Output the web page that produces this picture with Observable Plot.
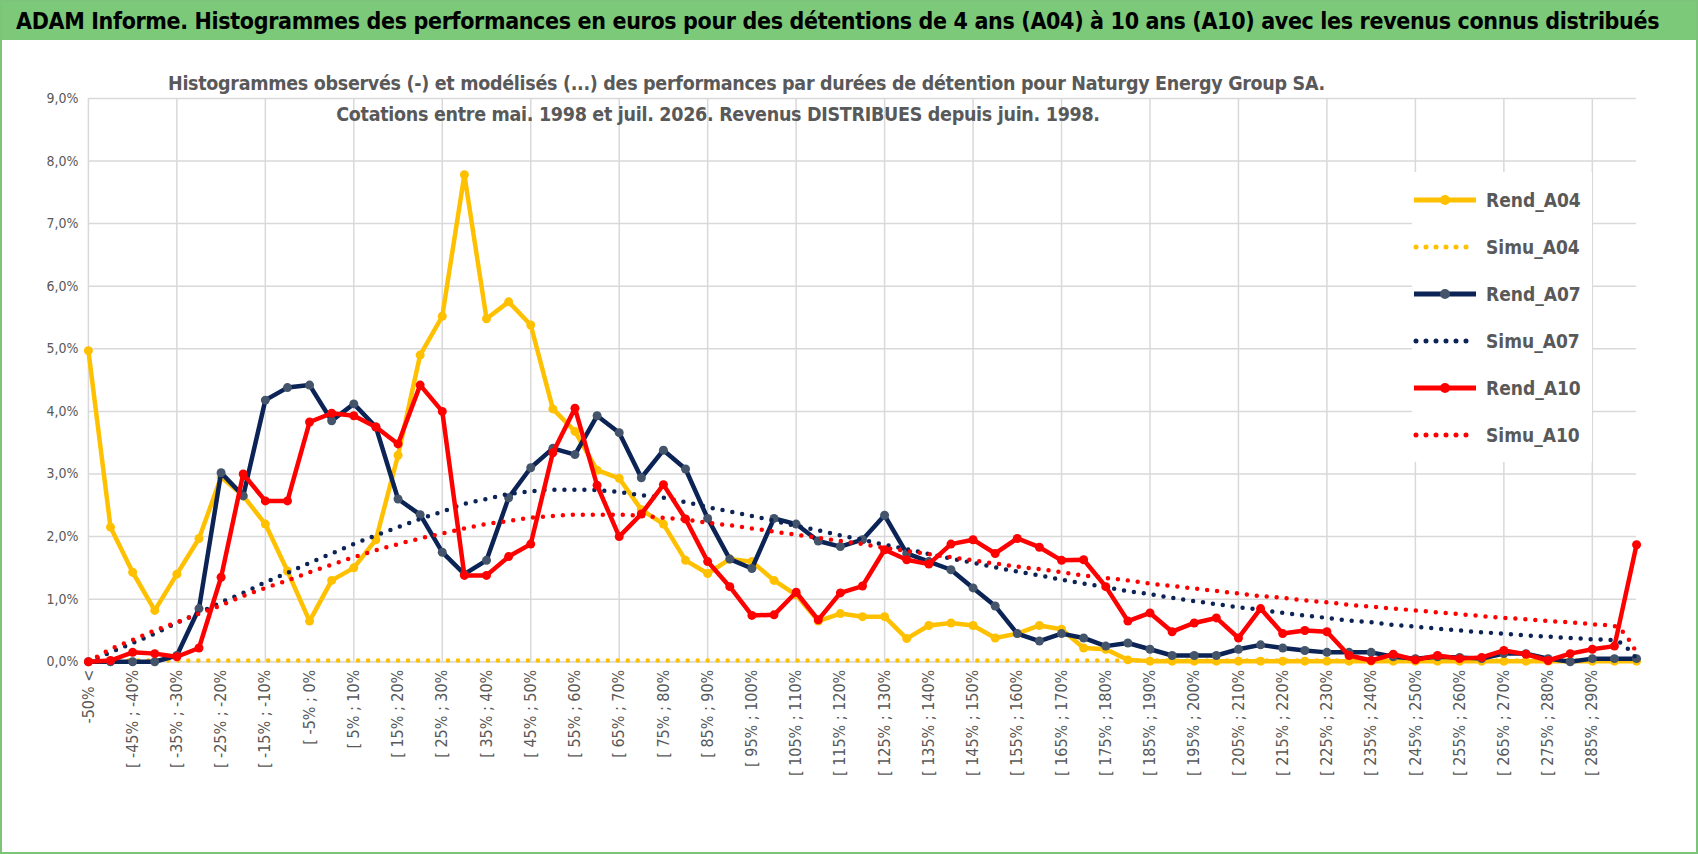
<!DOCTYPE html>
<html><head><meta charset="utf-8">
<script src="https://cdn.jsdelivr.net/npm/d3@7"></script>
<script src="https://cdn.jsdelivr.net/npm/@observablehq/plot@0.6"></script>
<style>
body{margin:0;background:#fff;font-family:"DejaVu Sans Condensed","Liberation Sans Narrow","DejaVu Sans",sans-serif;}
#page{position:relative;width:1694px;height:850px;border:2px solid #7cc47a;overflow:hidden;}
#title{height:38px;background:#7cc97a;color:#000;font-weight:bold;font-size:23px;letter-spacing:-0.35px;line-height:38px;padding-left:14px;white-space:nowrap;}
#chart{position:absolute;left:-2px;top:38px;}
#sub{position:absolute;left:166px;width:1100px;top:66px;text-align:center;color:#595959;font-weight:bold;font-size:19.5px;letter-spacing:-0.3px;line-height:31px;white-space:nowrap;}
#legend{position:absolute;left:1410px;top:170px;width:180px;background:#fff;padding:4px 0;}
.li{height:47px;display:flex;align-items:center;color:#595959;font-weight:bold;font-size:19px;}
.li svg{margin-right:8px;}
</style></head><body>
<div id="page">
<div id="title">ADAM Informe. Histogrammes des performances en euros pour des détentions de 4 ans (A04) à 10 ans (A10) avec les revenus connus distribués</div>
<div id="chart"></div>
<div id="sub">Histogrammes observés (-) et modélisés (...) des performances par durées de détention pour Naturgy Energy Group SA.<br>Cotations entre mai. 1998 et juil. 2026. Revenus DISTRIBUES depuis juin. 1998.</div>
<div id="legend"></div>
</div>
<script>
const categories = ["-50% <"].concat(d3.range(70).map(i => `[ ${-50 + 5*i}% ; ${-45 + 5*i}%`));

const rendA04 = [4.97,2.15,1.43,0.82,1.4,1.97,2.95,2.65,2.2,1.45,0.65,1.3,1.5,1.95,3.3,4.9,5.52,7.78,5.48,5.75,5.38,4.04,3.68,3.06,2.93,2.43,2.2,1.62,1.41,1.64,1.6,1.3,1.07,0.65,0.77,0.72,0.72,0.37,0.58,0.62,0.58,0.38,0.45,0.58,0.52,0.22,0.2,0.03,0.01,0.01,0.01,0.01,0.01,0.01,0.01,0.01,0.01,0.01,0.01,0.01,0.01,0.01,0.01,0.01,0.01,0.01,0.01,0.01,0.01,0.01,0.01];
const simuA04 = Array.from({length:71}, () => 0.02);
const rendA07 = [0,0,0,0,0.1,0.85,3.02,2.65,4.18,4.38,4.42,3.85,4.12,3.75,2.6,2.35,1.75,1.4,1.62,2.62,3.1,3.41,3.31,3.93,3.66,2.94,3.38,3.08,2.29,1.64,1.49,2.29,2.2,1.93,1.84,1.95,2.34,1.73,1.6,1.47,1.18,0.89,0.45,0.33,0.45,0.38,0.25,0.3,0.2,0.1,0.1,0.1,0.2,0.27,0.22,0.18,0.15,0.15,0.15,0.08,0.05,0.08,0.07,0.05,0.13,0.13,0.05,0.0,0.05,0.05,0.05];
const simuA07 = [0,0.15,0.3,0.45,0.62,0.78,0.95,1.1,1.27,1.42,1.58,1.73,1.88,2.02,2.15,2.28,2.4,2.52,2.6,2.68,2.72,2.75,2.75,2.74,2.71,2.66,2.62,2.55,2.47,2.4,2.33,2.25,2.17,2.1,2.02,1.95,1.87,1.8,1.72,1.65,1.58,1.51,1.44,1.38,1.31,1.25,1.19,1.13,1.08,1.02,0.97,0.92,0.87,0.83,0.78,0.74,0.7,0.66,0.63,0.59,0.56,0.53,0.5,0.47,0.45,0.42,0.4,0.38,0.36,0.34,0.05];
const rendA10 = [0,0.02,0.15,0.13,0.08,0.22,1.35,3.0,2.57,2.57,3.83,3.97,3.93,3.75,3.48,4.42,4.0,1.38,1.38,1.68,1.88,3.34,4.05,2.82,2.0,2.36,2.83,2.28,1.6,1.2,0.74,0.75,1.11,0.67,1.1,1.21,1.79,1.63,1.56,1.88,1.95,1.73,1.97,1.83,1.62,1.63,1.2,0.65,0.78,0.48,0.62,0.7,0.38,0.85,0.45,0.5,0.48,0.1,0.02,0.12,0.03,0.1,0.05,0.07,0.18,0.12,0.02,0.13,0.2,0.25,1.87];
const simuA10 = [0,0.2,0.35,0.5,0.63,0.77,0.9,1.05,1.18,1.3,1.43,1.55,1.67,1.78,1.88,1.97,2.05,2.13,2.2,2.25,2.3,2.33,2.35,2.35,2.35,2.33,2.3,2.27,2.22,2.18,2.13,2.08,2.03,1.98,1.93,1.88,1.82,1.77,1.72,1.67,1.62,1.57,1.52,1.48,1.43,1.38,1.34,1.3,1.25,1.21,1.17,1.13,1.09,1.05,1.02,0.98,0.95,0.91,0.88,0.85,0.82,0.79,0.76,0.73,0.7,0.68,0.65,0.63,0.6,0.57,0.15];
const yTicks = [0,1,2,3,4,5,6,7,8,9];

const YEL="#ffc000", NAV="#0c2356", RED="#ff0000";
const mk = arr => arr.map((v,i)=>({i, v}));
const series = [
  {name:"Rend_A04", data:mk(rendA04), color:YEL, dot:YEL, solid:true},
  {name:"Simu_A04", data:mk(simuA04), color:YEL, solid:false},
  {name:"Rend_A07", data:mk(rendA07), color:NAV, dot:"#44546a", solid:true},
  {name:"Simu_A07", data:mk(simuA07), color:NAV, solid:false},
  {name:"Rend_A10", data:mk(rendA10), color:RED, dot:RED, solid:true},
  {name:"Simu_A10", data:mk(simuA10), color:RED, solid:false},
];
const marks = [
  Plot.gridY(yTicks, {stroke:"#d9d9d9", strokeOpacity:1, strokeWidth:1.5}),
  Plot.gridX(d3.range(0,71,4), {stroke:"#d9d9d9", strokeOpacity:1, strokeWidth:1.5}),
  Plot.axisY(yTicks, {tickSize:0, label:null, tickFormat:d=>d.toFixed(1).replace(".",",")+"%", fontSize:14, fill:"#595959", tickPadding:10}),
  Plot.axisX(d3.range(0,70,2), {tickSize:0, label:null, tickRotate:-90, tickFormat:i=>categories[i], fontSize:16, fill:"#595959", tickPadding:8}),
  Plot.ruleY([0], {stroke:"#d9d9d9", strokeWidth:1.5}),
];
for (const s of series) {
  if (s.solid) {
    marks.push(Plot.line(s.data, {x:"i", y:"v", stroke:s.color, strokeWidth:4.5, strokeLinejoin:"round"}));
    marks.push(Plot.dot(s.data, {x:"i", y:"v", r:4.5, fill:s.dot, stroke:null}));
  } else {
    marks.push(Plot.line(s.data, {x:"i", y:"v", stroke:s.color, strokeWidth:4.5, strokeDasharray:"0,10", strokeLinecap:"round", curve:"monotone-x"}));
  }
}
const chart = Plot.plot({
  width:1698, height:812, marginTop:58, marginBottom:190, marginLeft:88, marginRight:60,
  x:{domain:[0,70], axis:null},
  y:{domain:[0,9], axis:null},
  style:{fontFamily:"'DejaVu Sans Condensed','Liberation Sans Narrow',sans-serif", background:"transparent"},
  marks
});
document.getElementById("chart").appendChild(chart);

const leg = document.getElementById("legend");
for (const s of series) {
  const row = document.createElement("div"); row.className="li";
  row.innerHTML = s.solid
    ? `<svg width="66" height="12"><line x1="2" y1="6" x2="64" y2="6" stroke="${s.color}" stroke-width="5"/><circle cx="33" cy="6" r="5" fill="${s.dot}"/></svg>${s.name}`
    : `<svg width="66" height="12"><line x1="4" y1="6" x2="64" y2="6" stroke="${s.color}" stroke-width="5" stroke-dasharray="0,10" stroke-linecap="round"/></svg>${s.name}`;
  leg.appendChild(row);
}
</script>
</body></html>
